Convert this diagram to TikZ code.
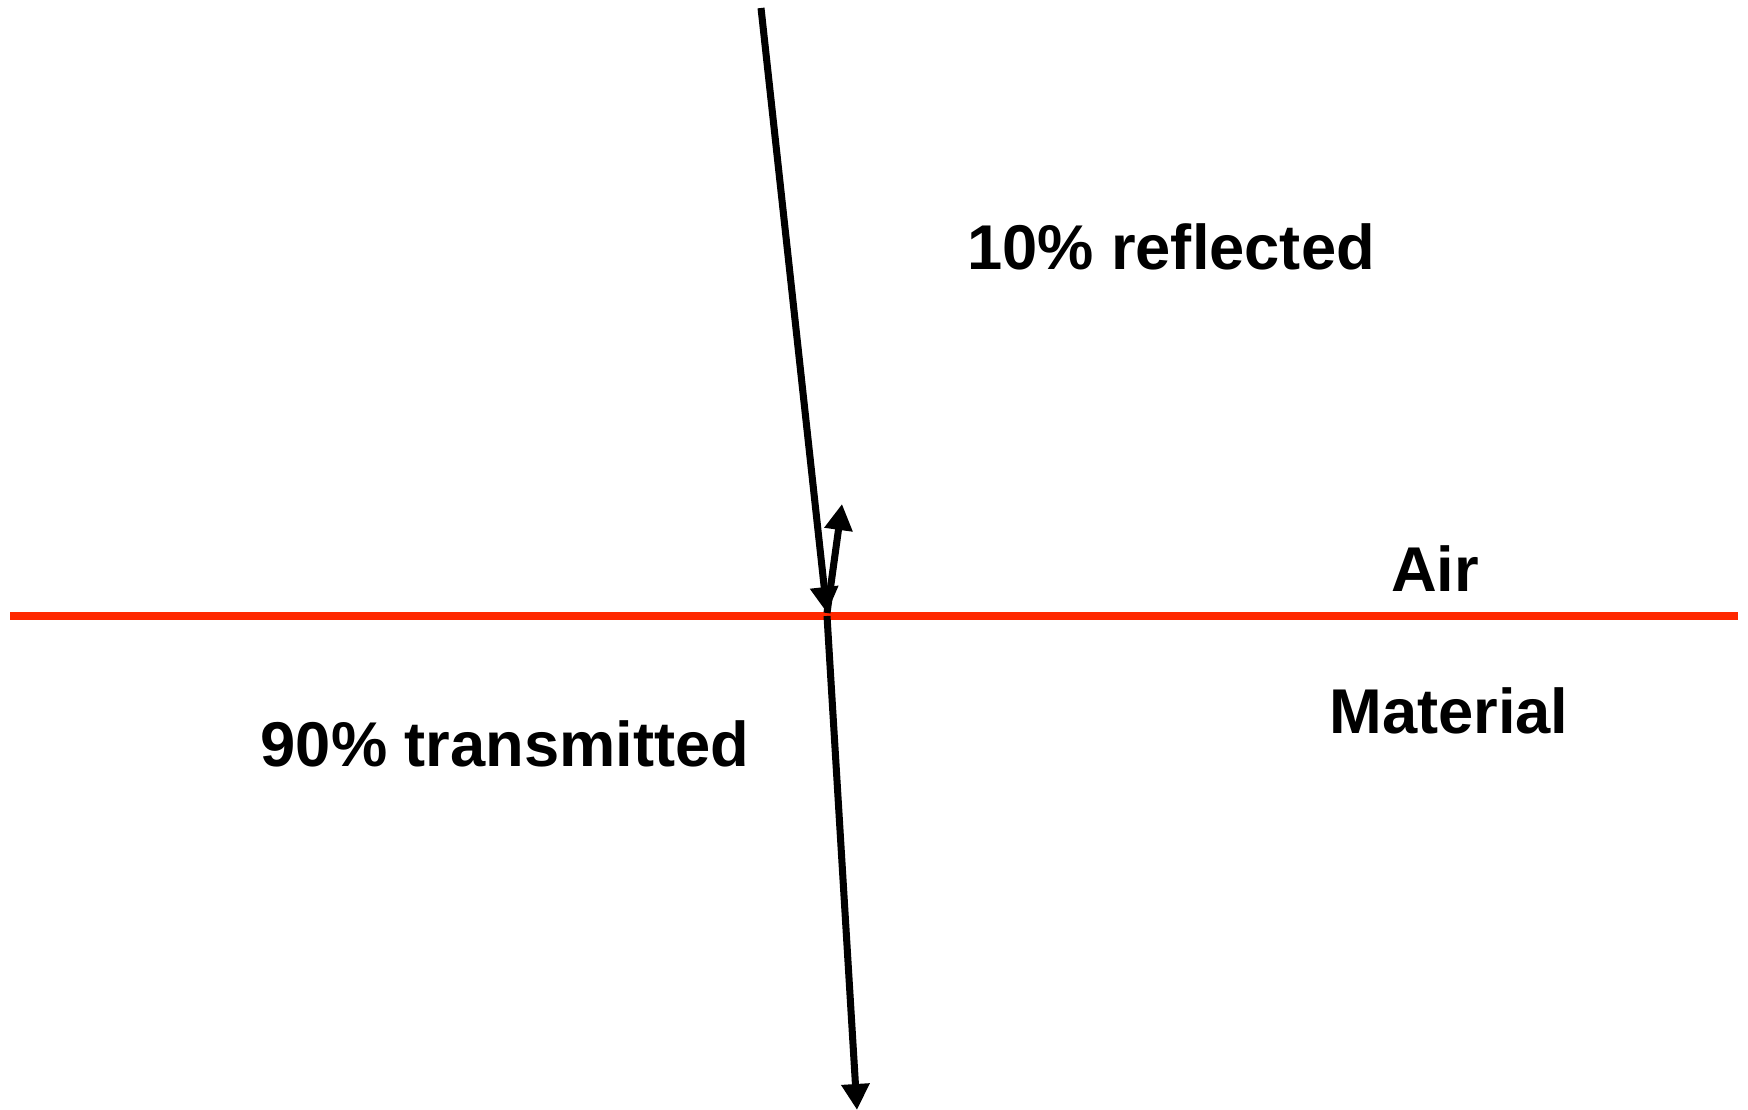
\documentclass[tikz,border=0pt]{standalone}
\usepackage{fontspec}
\setmainfont{Liberation Sans}
\usepackage{xcolor}
\usepackage{tikz}
\usetikzlibrary{arrows.meta}
\definecolor{surface}{RGB}{255,40,0}

\begin{document}
\begin{tikzpicture}[x=1mm,y=1mm,
  ray/.style={line width=2pt, -{Triangle[length=2.6mm,width=2.7mm]}},
  label/.style={font=\fontsize{18}{20}\selectfont\bfseries}]
\useasboundingbox (0,0) rectangle (174.8,-111.0);
\coordinate (left) at (1.0,-61.6);
\coordinate (right) at (173.8,-61.6);
\draw[surface, line width=2.3pt] (left) -- (right);
\coordinate (source) at (76.1,-0.8);
\coordinate (hit) at (82.7,-61.3);
\coordinate (up) at (84.2,-50.4);
\coordinate (down) at (85.7,-111.0);
\draw[ray] (source) -- (hit);
\draw[ray] (hit) -- (up);
\draw[ray] ([yshift=-0.3mm]hit) -- (down);
\node[label] (refl) at (117.1,-24.7) {10\% reflected};
\node[label] (air) at (143.5,-56.9) {Air};
\node[label] (mat) at (144.9,-71.1) {Material};
\node[label] (trans) at (50.5,-74.4) {90\% transmitted};
\end{tikzpicture}
\end{document}
